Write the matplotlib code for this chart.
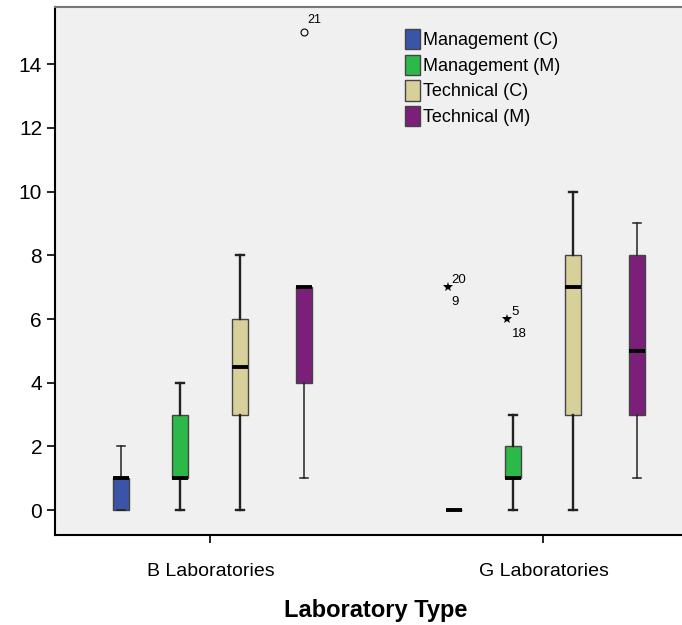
import matplotlib
matplotlib.use("Agg")
import matplotlib.pyplot as plt
from matplotlib.patches import Patch

plt.rcParams['font.family'] = ['Liberation Sans', 'DejaVu Sans']

# data
labs = ["B Laboratories", "G Laboratories"]
groups = ["Management (C)", "Management (M)", "Technical (C)", "Technical (M)"]
colors = ["#3a55a8", "#2db84a", "#d7d09b", "#7b1f7a"]

# (whislo, q1, med, q3, whishi) per lab, per group
b_stats = [(0, 0, 1, 1, 2), (0, 1, 1, 3, 4), (0, 3, 4.5, 6, 8), (1, 4, 7, 7, 7)]
g_stats = [(0, 0, 0, 0, 0), (0, 1, 1, 2, 3), (0, 3, 7, 8, 10), (1, 3, 5, 8, 9)]

# outliers: (lab index, group index, value, case labels, marker)
outliers = [(0, 3, 15, ["21"], "o"),
            (1, 0, 7, ["20", "9"], "*"),
            (1, 1, 6, ["5", "18"], "*")]

offsets = [-0.27, -0.09, 0.09, 0.28]
box_w = 0.048
thin = [True, False, False, True]

fig = plt.figure(figsize=(6.82, 6.25), dpi=100)
ax = fig.add_axes([0.081, 0.144, 0.94, 0.845])
ax.set_facecolor("#f0f0f0")

for li, stats in enumerate([b_stats, g_stats]):
    for gi, s in enumerate(stats):
        lo, q1, med, q3, hi = s
        d = dict(whislo=lo, q1=q1, med=med, q3=q3, whishi=hi, fliers=[])
        pos = li + offsets[gi]
        lw = 1.1 if thin[gi] else 1.7
        ax.bxp([d], positions=[pos], widths=box_w, patch_artist=True,
               showfliers=False,
               boxprops=dict(facecolor=colors[gi], edgecolor="#444444", lw=1),
               medianprops=dict(color="black", lw=2.8),
               whiskerprops=dict(color="#222222", lw=lw),
               capprops=dict(color="#222222", lw=lw),
               capwidths=box_w * 0.5)

for li, gi, v, names, mk in outliers:
    x = li + offsets[gi] - (0.018 if mk == "*" else 0)
    if mk == "o":
        ax.plot(x, v, marker="o", ms=5, mfc="none", mec="black", mew=0.8)
        ax.text(x + 0.012, v + 0.28, names[0], fontsize=9)
    else:
        ax.plot(x, v, marker="*", ms=7, color="black", mew=0)
        ax.text(x + 0.012, v + 0.12, names[0], fontsize=9.5)
        ax.text(x + 0.012, v - 0.55, names[1], fontsize=9.5)

ax.set_xlim(-0.466, 1.459)
ax.set_ylim(-0.78, 15.8)
ax.set_yticks(range(0, 15, 2))
ax.set_xticks([0, 1])
ax.set_xticklabels(labs, fontsize=14)
ax.tick_params(axis="y", labelsize=15, length=6, width=1.2)
ax.tick_params(axis="x", length=6, width=1.2, pad=14)
ax.set_xlabel("Laboratory Type", fontsize=17, fontweight="bold", labelpad=14)
for sp in ax.spines.values():
    sp.set_linewidth(1.5)
ax.spines["right"].set_visible(False)
ax.spines["top"].set_color("#777777")

handles = [Patch(facecolor=c, edgecolor="#444444", label=g) for c, g in zip(colors, groups)]
ax.legend(handles=handles, loc="upper left", bbox_to_anchor=(0.534, 0.972),
          frameon=False, fontsize=13, handlelength=0.85, handleheight=1.35,
          handletextpad=0.15, labelspacing=0.3, borderaxespad=0)

fig.savefig("out.png", dpi=100)
